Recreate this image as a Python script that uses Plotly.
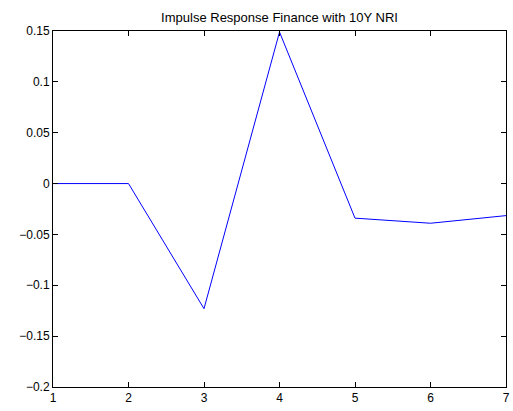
import plotly.graph_objects as go

# Impulse response horizons and responses
periods = [1, 2, 3, 4, 5, 6, 7]
response = [0.0, 0.0, -0.123, 0.149, -0.034, -0.039, -0.0315]

x_ticks = [1, 2, 3, 4, 5, 6, 7]
y_ticks = [-0.2, -0.15, -0.1, -0.05, 0, 0.05, 0.1, 0.15]
y_labels = ["\u22120.2", "\u22120.15", "\u22120.1", "\u22120.05", "0", "0.05", "0.1", "0.15"]

fig = go.Figure()
fig.add_trace(go.Scatter(
    x=periods, y=response, mode="lines",
    line=dict(color="#0000ff", width=1),
    showlegend=False,
))

axis_common = dict(
    showgrid=False, zeroline=False,
    showline=True, linecolor="black", linewidth=1,
    mirror="ticks", ticks="inside", ticklen=5, tickcolor="black", tickwidth=1,
    tickfont=dict(family="Liberation Sans, Arial, sans-serif", size=12, color="black"),
)

fig.update_xaxes(range=[1, 7], tickvals=x_ticks, ticktext=[str(t) for t in x_ticks], **axis_common)
fig.update_yaxes(range=[-0.2, 0.15], tickvals=y_ticks, ticktext=y_labels, **axis_common)

fig.update_layout(
    width=513, height=411,
    margin=dict(l=53, r=7, t=31, b=24, autoexpand=False),
    paper_bgcolor="white", plot_bgcolor="white",
    title=dict(
        text="Impulse Response Finance with 10Y NRI",
        x=0.5, xanchor="center", xref="paper",
        y=1, yref="paper", yanchor="bottom", pad=dict(b=9),
        font=dict(family="Liberation Sans, Arial, sans-serif", size=13, color="black"),
    ),
)

fig.write_html("out.html")
